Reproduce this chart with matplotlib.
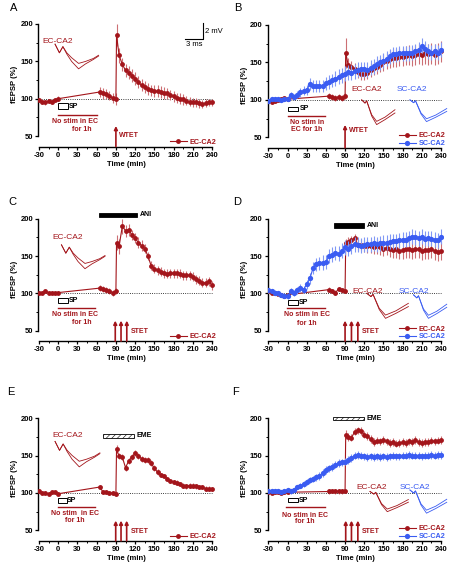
import numpy as np
import matplotlib
matplotlib.use('Agg')
import matplotlib.pyplot as plt
from matplotlib.patches import Rectangle
from matplotlib.ticker import MultipleLocator

plt.rcParams['font.family'] = ['Liberation Sans', 'DejaVu Sans']
plt.rcParams['hatch.linewidth'] = 0.4
plt.rcParams['axes.unicode_minus'] = False

RED = '#a3151b'
RED_ERR = '#cc6f74'
BLUE = '#3a5cf2'
BLUE_ERR = '#8098f5'

# time points (min); red = EC-CA2 (no stim 0-60), blue = SC-CA2 (continuous)
T_RED = [-30, -25, -20, -15, -10, -5, 0, 65, 70, 75, 80, 85, 90, 91] + list(range(95, 241, 5))
T_BLUE = list(range(-30, 241, 5))

# ---- panel A
A_EC = [98, 96, 95, 97, 96, 98, 100,
        109, 107, 106, 104, 101, 100,
        185, 158, 146, 138, 135, 131, 127, 122, 118, 116, 113, 111, 110, 110, 109, 108,
        107, 105, 103, 101, 100, 99, 97, 96, 95, 95, 94, 93, 94, 95, 95]
A_EC_SEM = [3, 3, 3, 3, 3, 3, 3,
            7, 7, 7, 6, 7, 8,
            15, 10, 9, 9, 9, 9, 9, 8, 8, 8, 8, 8, 8, 8, 8, 8,
            7, 7, 7, 7, 7, 7, 6, 6, 6, 6, 6, 5, 5, 5, 5]

# ---- panel B
B_EC = [98, 97, 99, 100, 101, 102, 101,
        105, 104, 103, 104, 102, 105,
        163, 146, 144, 141, 137, 134, 134, 136, 140, 142, 144, 147, 150, 152, 155, 156,
        156, 157, 157, 159, 160, 158, 160, 161, 160, 162, 161, 162, 160, 162, 165]
B_EC_SEM = [3, 3, 3, 3, 3, 3, 3,
            4, 4, 4, 4, 4, 4,
            20, 10, 8, 8, 8, 8, 8, 8, 9, 9, 10, 10, 11, 11, 12, 12,
            12, 12, 12, 13, 13, 13, 13, 13, 13, 14, 14, 14, 14, 14, 14]
B_SC = [98, 101, 101, 101, 100, 101, 101,
        107, 104, 107, 110, 112, 113, 121, 119, 118, 118, 119, 122,
        124, 126, 128, 131, 133, 135, 137, 136, 138, 140, 141, 141,
        140, 143, 145, 148, 150, 152, 155, 158, 161, 161, 162, 162,
        162, 162, 163, 165, 167, 172, 168, 165, 163, 165, 163, 167]
B_SC_SEM = [2, 2, 2, 2, 2, 2, 2,
            3, 4, 5, 6, 6, 7, 8, 8, 8, 8, 8, 9,
            9, 9, 10, 10, 10, 10, 10, 10, 10, 10, 10, 10,
            10, 10, 10, 10, 10, 10, 10, 10, 10, 10, 10, 10,
            10, 10, 10, 10, 10, 10, 10, 10, 10, 10, 10, 10]

# ---- panel C
C_EC = [101, 101, 103, 101, 101, 100, 101,
        107, 106, 104, 103, 101, 103,
        168, 163, 190, 184, 185, 178, 174, 168, 164, 160, 150, 137, 133, 131, 129, 127,
        126, 127, 127, 127, 126, 124, 124, 124, 122, 119, 117, 114, 114, 116, 111]
C_EC_SEM = [2, 2, 2, 2, 2, 2, 2,
            4, 4, 4, 4, 4, 4,
            10, 10, 10, 8, 8, 7, 7, 7, 7, 6, 6, 6, 6, 6, 6, 6,
            6, 6, 6, 6, 6, 6, 6, 6, 6, 6, 6, 6, 6, 6, 6]

# ---- panel D
D_EC = [103, 101, 100, 99, 98, 97, 98,
        105, 103, 101, 106, 104, 103,
        167, 169, 171, 174, 165, 165, 164, 163, 163, 162, 163, 162, 160, 161, 160, 158,
        159, 157, 158, 160, 159, 158, 160, 159, 157, 158, 158, 159, 157, 155, 157]
D_EC_SEM = [2, 2, 2, 2, 2, 2, 2,
            3, 3, 3, 3, 3, 3,
            6, 6, 6, 6, 8, 8, 8, 9, 9, 9, 10, 10, 10, 10, 11, 11,
            11, 11, 12, 12, 12, 12, 12, 12, 12, 12, 12, 12, 12, 12, 12]
D_SC = [104, 103, 101, 100, 98, 97, 96,
        103, 100, 104, 107, 105, 112, 120, 134, 139, 140, 141, 142,
        150, 152, 154, 153, 157, 162, 160, 163, 166, 165, 164, 165,
        166, 166, 167, 166, 167, 168, 168, 169, 170, 170, 171, 172,
        172, 174, 176, 175, 174, 176, 173, 174, 173, 172, 171, 176]
D_SC_SEM = [3, 3, 3, 3, 3, 3, 3,
            4, 4, 5, 5, 5, 6, 7, 8, 9, 9, 10, 10,
            10, 10, 10, 10, 10, 10, 10, 10, 10, 10, 10, 10,
            10, 10, 10, 10, 10, 10, 10, 10, 10, 10, 10, 10,
            10, 10, 10, 10, 10, 10, 10, 10, 10, 10, 10, 10]

# ---- panel E
E_EC = [103, 100, 100, 99, 101, 101, 99,
        108, 101, 101, 100, 100, 99,
        159, 149, 148, 134, 143, 148, 153, 150, 146, 144, 144, 140, 133, 128, 124, 123,
        119, 116, 115, 114, 112, 110, 109, 110, 110, 109, 108, 108, 106, 106, 105]
E_EC_SEM = [2, 2, 2, 2, 2, 2, 2,
            3, 3, 3, 3, 3, 3,
            5, 4, 4, 4, 4, 4, 4, 4, 4, 4, 4, 4, 4, 4, 3, 3,
            3, 3, 3, 3, 3, 3, 3, 3, 3, 3, 3, 3, 3, 3, 3]

# ---- panel F
F_EC = [101, 100, 101, 101, 100, 101, 101,
        102, 103, 102, 102, 102, 103,
        178, 175, 174, 182, 184, 183, 178, 176, 172, 168, 170, 169, 171, 169, 167, 168,
        166, 167, 168, 167, 169, 168, 171, 168, 167, 168, 168, 170, 169, 170, 171]
F_EC_SEM = [2, 2, 2, 2, 2, 2, 2,
            3, 3, 3, 3, 3, 3,
            6, 5, 5, 5, 5, 5, 5, 5, 5, 5, 5, 5, 5, 5, 5, 5,
            5, 5, 5, 5, 5, 5, 5, 5, 5, 5, 5, 5, 5, 5, 5]
F_SC = [102, 103, 102, 102, 101, 103, 104,
        102, 104, 108, 110, 112, 115, 118, 119, 121, 123, 127, 131,
        133, 135, 138, 140, 141, 142, 144, 147, 150, 151, 150, 149,
        148, 149, 148, 149, 148, 149, 148, 149, 150, 149, 149, 150,
        150, 151, 150, 150, 150, 149, 150, 150, 151, 150, 151, 151]
F_SC_SEM = [2, 2, 2, 2, 2, 2, 2,
            3, 3, 3, 3, 4, 4, 4, 4, 5, 5, 5, 5,
            5, 5, 5, 5, 5, 5, 5, 5, 5, 5, 5, 5,
            5, 5, 5, 5, 5, 5, 5, 5, 5, 5, 5, 5,
            5, 5, 5, 5, 5, 5, 5, 5, 5, 5, 5, 5]

X_TICKS = [-30, 0, 30, 60, 90, 120, 150, 180, 210, 240]
Y_TICKS = [50, 100, 150, 200]

# example fEPSP traces (normalised shapes)
TR_A_X = [0, 0.1, 0.18, 0.27, 0.38, 0.54, 0.7, 0.88, 1.0]
TR_A_BASE = [1, 0.65, 0.9, 0.65, 0.45, 0.22, 0.3, 0.42, 0.55]
TR_A_POT = [1, 0.65, 0.9, 0.6, 0.3, 0.0, 0.2, 0.38, 0.52]
TR_B_X = [0, 0.1, 0.15, 0.3, 0.45, 0.7, 1.0]
TR_B_BASE = [1, 0.87, 0.96, 0.4, 0.13, 0.3, 0.6]
TR_B_POT = [1, 0.87, 0.96, 0.35, 0.0, 0.2, 0.47]

FS = 5.5
W, H = 449, 565


def make_axes(fig, left, right, top, bottom):
    """axes rect from pixel edges (top-origin)"""
    return fig.add_axes([left/W, 1-bottom/H, (right-left)/W, (bottom-top)/H])


def base_plot(ax, ec, ec_sem, sc=None, sc_sem=None):
    ax.set_xlim(-31, 243)
    ax.set_ylim(36, 202)
    ax.plot([-30, 240], [100, 100], ls=':', color='k', lw=0.6, zorder=1)
    handles = []
    ax.errorbar(T_RED, ec, yerr=ec_sem, fmt='none', ecolor=RED_ERR, elinewidth=0.8,
                capsize=0, zorder=2)
    h, = ax.plot(T_RED, ec, '-o', color=RED, lw=0.8, ms=3.5, mew=0, label='EC-CA2', zorder=3)
    handles.append(h)
    if sc is not None:
        ax.errorbar(T_BLUE, sc, yerr=sc_sem, fmt='none', ecolor=BLUE_ERR, elinewidth=0.8,
                    capsize=0, zorder=4)
        h, = ax.plot(T_BLUE, sc, '-o', color=BLUE, lw=0.8, ms=3.8, mew=0, label='SC-CA2', zorder=5)
        handles.append(h)

    for s in ['top', 'right']:
        ax.spines[s].set_visible(False)
    ax.spines['left'].set_bounds(50, 200)
    ax.spines['bottom'].set_bounds(-30, 240)
    for s in ['left', 'bottom']:
        ax.spines[s].set_linewidth(1.0)
    ax.set_xticks(X_TICKS)
    ax.set_yticks(Y_TICKS)
    ax.tick_params(which='major', length=2.5, width=0.9, labelsize=FS, pad=1.2)
    ax.tick_params(which='minor', length=1.5, width=0.7)
    ax.set_xticks([-15, 15, 45, 75, 105, 135, 165, 195, 225], minor=True)
    ax.set_yticks([75, 125, 175], minor=True)
    for lab in ax.get_xticklabels() + ax.get_yticklabels():
        lab.set_fontweight('bold')
    ax.set_xlabel('Time (min)', fontsize=FS, fontweight='bold', labelpad=1.5)
    ax.set_ylabel('fEPSP (%)', fontsize=FS, fontweight='bold', labelpad=1.5)

    leg = ax.legend(handles=handles, loc='lower right', bbox_to_anchor=(1.02, 0.0),
                    frameon=False, prop={'size': 5.2, 'weight': 'bold'},
                    handlelength=2.4, handletextpad=0.4, labelspacing=0.1,
                    borderpad=0.1, borderaxespad=0, labelcolor='linecolor')
    return leg


def add_sp(ax, box, sp_x, sp_y, line, texts):
    x0, x1, y0, y1 = box
    ax.add_patch(Rectangle((x0, y0), x1-x0, y1-y0, facecolor='white', edgecolor='k',
                           lw=0.7, zorder=6))
    ax.text(sp_x, sp_y, 'SP', fontsize=5, fontweight='bold', va='center', ha='left')
    lx0, lx1, ly = line
    ax.plot([lx0, lx1], [ly, ly], color=RED, lw=1.0)
    for tx, ty, s in texts:
        ax.text(tx, ty, s, fontsize=5, fontweight='bold', color=RED, ha='center', va='center')


def add_stim(ax, xs, top, label, lx, ly):
    for x in xs:
        ax.annotate('', xy=(x, top), xytext=(x, 36),
                    arrowprops=dict(arrowstyle='-|>', color=RED, lw=1.2, mutation_scale=5,
                                    shrinkA=0, shrinkB=0),
                    annotation_clip=False)
    ax.text(lx, ly, label, fontsize=5, fontweight='bold', color=RED, ha='left', va='center')


def add_trace(ax, x0, x1, ytop, ybot, color, shape_x, base, pot, name, nx, ny):
    xs = [x0 + v*(x1-x0) for v in shape_x]
    ax.plot(xs, [ybot + v*(ytop-ybot) for v in base], color=color, lw=0.6, clip_on=False)
    ax.plot(xs, [ybot + v*(ytop-ybot) for v in pot], color=color, lw=0.6, clip_on=False)
    ax.text(nx, ny, name, fontsize=6, color=color, ha='center', va='center')


def add_drug(ax, x0, x1, y0, y1, name, filled):
    if filled:
        r = Rectangle((x0, y0), x1-x0, y1-y0, facecolor='k', edgecolor='k', lw=0.6, clip_on=False)
    else:
        r = Rectangle((x0, y0), x1-x0, y1-y0, facecolor='white', edgecolor='k', lw=0.6,
                      hatch='//////', clip_on=False)
    ax.add_patch(r)
    ax.text(x1 + 4, (y0+y1)/2, name, fontsize=5, fontweight='bold', ha='left', va='center')


fig = plt.figure(figsize=(4.49, 5.65), dpi=100)

axA = make_axes(fig, 38.4, 213.9, 22.5, 146.5)
axB = make_axes(fig, 267.7, 442.9, 23.5, 147.8)
axC = make_axes(fig, 38.4, 213.9, 217.2, 341.1)
axD = make_axes(fig, 267.7, 442.9, 217.2, 341.1)
axE = make_axes(fig, 38.4, 213.9, 416.8, 540.8)
axF = make_axes(fig, 267.7, 442.9, 416.8, 540.8)

base_plot(axA, A_EC, A_EC_SEM)
base_plot(axB, B_EC, B_EC_SEM, B_SC, B_SC_SEM)
base_plot(axC, C_EC, C_EC_SEM)
base_plot(axD, D_EC, D_EC_SEM, D_SC, D_SC_SEM)
base_plot(axE, E_EC, E_EC_SEM)
base_plot(axF, F_EC, F_EC_SEM, F_SC, F_SC_SEM)

# panel letters
for ax_lbl, (px, py) in zip('ABCDEF', [(10, 8), (234, 8), (8, 202), (233, 202), (7, 392), (232, 392)]):
    fig.text(px/W, 1-py/H, ax_lbl, fontsize=8, ha='left', va='center')

# A
add_sp(axA, (0.2, 14.7, 86.6, 93.8), 17, 90, (0, 60, 78.6),
       [(26, 69.7, 'No stim in EC'), (36.6, 59, 'for 1h')])
add_stim(axA, [90], 63.5, 'WTET', 95, 51)
add_trace(axA, -5, 63, 173, 140, RED, TR_A_X, TR_A_BASE, TR_A_POT, 'EC-CA2', -1.6, 176)
axA.plot([226, 226, 198], [201, 180, 180], color='k', lw=0.8, clip_on=False)
axA.text(229, 190, '2 mV', fontsize=5.5, ha='left', va='center')
axA.text(212, 173, '3 ms', fontsize=5.5, ha='center', va='center')

# B
add_sp(axB, (1.3, 16.9, 85.7, 91), 18.5, 88.4, (0, 58.6, 79),
       [(30, 69.7, 'No stim in'), (30, 60, 'EC for 1h')])
add_stim(axB, [90], 66.6, 'WTET', 96.6, 59)
add_trace(axB, 116, 168, 100, 67, RED, TR_B_X, TR_B_BASE, TR_B_POT, 'EC-CA2', 123.7, 114)
add_trace(axB, 191.5, 249, 100, 71, BLUE, TR_B_X, TR_B_BASE, TR_B_POT, 'SC-CA2', 195, 114)

# C
add_sp(axC, (-0.9, 14.7, 87.5, 94.2), 16.5, 91, (-1, 57, 80.8),
       [(26.7, 71, 'No stim in EC'), (36.6, 61, 'for 1h')])
add_stim(axC, [89, 98, 107], 63.4, 'STET', 113, 48.7)
add_trace(axC, 5, 73, 165, 133, RED, TR_A_X, TR_A_BASE, TR_A_POT, 'EC-CA2', 15, 175)
add_drug(axC, 64, 123, 202.3, 207.6, 'ANI', True)

# D
add_sp(axD, (1.3, 15.9, 84.4, 91), 18, 87.7, (-1, 58.6, 80),
       [(30, 71, 'No stim in EC'), (30, 60, 'for 1h')])
add_stim(axD, [90, 100, 110], 63.4, 'STET', 116, 48.7)
add_trace(axD, 124, 189, 100, 66.5, RED, TR_B_X, TR_B_BASE, TR_B_POT, 'EC-CA2', 126, 103)
add_trace(axD, 197, 249, 98, 66.5, BLUE, TR_B_X, TR_B_BASE, TR_B_POT, 'SC-CA2', 198, 103)
add_drug(axD, 72.7, 120, 188, 194.6, 'ANI', True)

# E
add_sp(axE, (-0.9, 13.2, 86.2, 92.9), 14, 89.5, (-1, 57, 80.8),
       [(26, 72.8, 'No stim  in EC'), (26, 63.8, 'for 1h')])
add_stim(axE, [89.7, 98, 106.8], 63, 'STET', 113, 48)
add_trace(axE, -5, 65, 169, 135, RED, TR_A_X, TR_A_BASE, TR_A_POT, 'EC-CA2', 14.5, 177)
add_drug(axE, 70.4, 118.3, 173.7, 179.5, 'EME', False)

# F
add_sp(axF, (0.2, 15.9, 87.5, 92.9), 17, 90.2, (-2, 58.6, 80.8),
       [(27, 70.5, 'No stim in EC'), (27, 61.6, 'for 1h')])
add_stim(axF, [91, 100, 110], 63, 'STET', 116, 48)
add_trace(axF, 129, 189, 102, 75, RED, TR_B_X, TR_B_BASE, TR_B_POT, 'EC-CA2', 131.5, 108)
add_trace(axF, 191.5, 249, 104, 73, BLUE, TR_B_X, TR_B_BASE, TR_B_POT, 'SC-CA2', 198.7, 108)
add_drug(axF, 71.6, 120, 198, 202, 'EME', False)

fig.savefig('out.png', dpi=100)
